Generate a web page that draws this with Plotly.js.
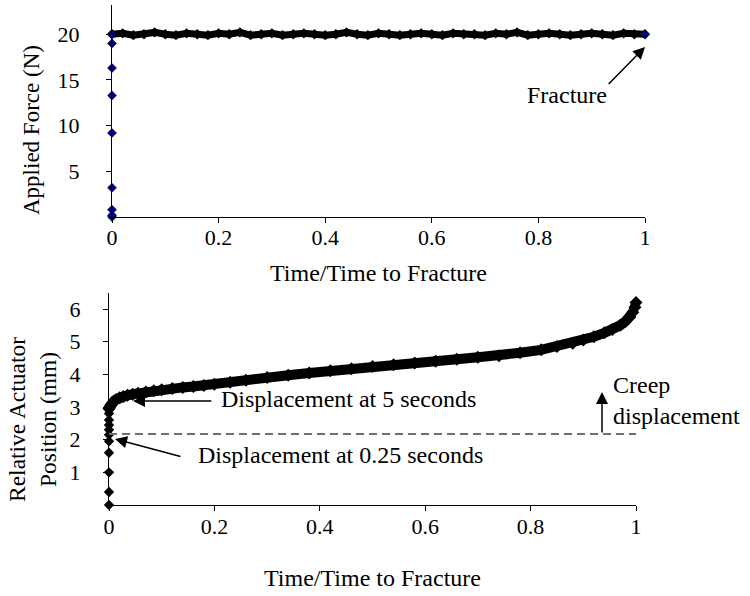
<!DOCTYPE html>
<html>
<head>
<meta charset="utf-8">
<script src="https://cdn.plot.ly/plotly-3.0.1.min.js"></script>
<style>html,body{margin:0;padding:0;background:#fff;}#chart{width:750px;height:596px;}</style>
</head>
<body>
<div id="chart"></div>
<script>
// ---- Data ----
const xTickVals = [0, 0.2, 0.4, 0.6, 0.8, 1];
const xTickText = ["0", "0.2", "0.4", "0.6", "0.8", "1"];
const forceTickVals = [5, 10, 15, 20];
const posTickVals = [1, 2, 3, 4, 5, 6];

// Top panel: applied force (N) vs normalised time
const forceRampX = [0, 0, 0, 0, 0, 0, 0, 0, 0];
const forceRampY = [0, 0.2, 0.8, 3.2, 9.2, 13.3, 16.3, 19.0, 20.0];
const forceHoldX = [0, 0.02, 0.04, 0.06, 0.08, 0.1, 0.12, 0.14, 0.16, 0.18, 0.2, 0.22, 0.24, 0.26, 0.28, 0.3, 0.32, 0.34, 0.36, 0.38, 0.4, 0.42, 0.44, 0.46, 0.48, 0.5, 0.52, 0.54, 0.56, 0.58, 0.6, 0.62, 0.64, 0.66, 0.68, 0.7, 0.72, 0.74, 0.76, 0.78, 0.8, 0.82, 0.84, 0.86, 0.88, 0.9, 0.92, 0.94, 0.96, 0.98, 1.0];
const forceHoldY = [20.0, 20.1, 19.9, 20.0, 20.2, 20.0, 19.9, 20.1, 20.0, 19.9, 20.1, 20.0, 20.2, 19.9, 20.0, 20.1, 19.9, 20.0, 20.1, 20.0, 19.9, 20.0, 20.2, 20.0, 19.9, 20.1, 20.0, 19.9, 20.0, 20.1, 20.0, 19.9, 20.1, 20.0, 20.0, 19.9, 20.1, 20.0, 20.2, 19.9, 20.0, 20.1, 20.0, 19.9, 20.0, 20.1, 20.0, 19.9, 20.1, 20.0, 20.0];
const fracturePoint = {x: 1.0, y: 18.6};

// Bottom panel: relative actuator position (mm)
const posRampX = [0, 0, 0, 0, 0, 0, 0, 0, 0, 0, 0];
const posRampY = [0, 0.4, 1.0, 1.6, 1.95, 2.15, 2.3, 2.45, 2.6, 2.8, 2.95];
const posCreepX = [0, 0.002, 0.004, 0.007, 0.01, 0.014, 0.02, 0.027, 0.035, 0.045, 0.055, 0.07, 0.085, 0.1, 0.12, 0.14, 0.16, 0.18, 0.2, 0.23, 0.26, 0.3, 0.34, 0.38, 0.42, 0.46, 0.5, 0.54, 0.58, 0.62, 0.66, 0.7, 0.74, 0.78, 0.82, 0.85, 0.88, 0.9, 0.92, 0.94, 0.955, 0.97, 0.98, 0.988, 0.994, 0.998, 1.0];
const posCreepY = [2.95, 3.02, 3.08, 3.14, 3.19, 3.23, 3.28, 3.32, 3.36, 3.39, 3.42, 3.46, 3.5, 3.53, 3.57, 3.6, 3.63, 3.66, 3.7, 3.76, 3.82, 3.9, 3.97, 4.04, 4.11, 4.17, 4.24, 4.29, 4.35, 4.4, 4.46, 4.52, 4.57, 4.66, 4.75, 4.85, 4.95, 5.05, 5.15, 5.27, 5.37, 5.5, 5.62, 5.75, 5.9, 6.05, 6.2];
const dispAt025s = 2.17;   // dashed reference level
const dispAt5s = 3.18;     // arrow level
const creepArrow = {x: 0.9355, y0: 2.17, y1: 3.46};

// ---- Traces ----
const FONT = "Liberation Serif, 'Times New Roman', Times, serif";
const traces = [
  {x: forceHoldX, y: forceHoldY, xaxis: 'x', yaxis: 'y', type: 'scatter', mode: 'lines+markers',
   line: {color: '#000', width: 7}, marker: {symbol: 'diamond', size: 8, color: '#000'},
   cliponaxis: false, showlegend: false, hoverinfo: 'x+y'},
  {x: forceRampX, y: forceRampY, xaxis: 'x', yaxis: 'y', type: 'scatter', mode: 'markers',
   marker: {symbol: 'diamond', size: 7, color: '#000080', line: {color: '#000', width: 0.5}},
   cliponaxis: false, showlegend: false, hoverinfo: 'x+y'},
  {x: [forceHoldX[forceHoldX.length - 1]], y: [forceHoldY[forceHoldY.length - 1]], xaxis: 'x', yaxis: 'y', type: 'scatter', mode: 'markers',
   marker: {symbol: 'diamond', size: 6, color: '#000080'}, cliponaxis: false, showlegend: false, hoverinfo: 'x+y'},
  {x: posCreepX, y: posCreepY, xaxis: 'x2', yaxis: 'y2', type: 'scatter', mode: 'lines+markers',
   line: {color: '#000', width: 10}, marker: {symbol: 'diamond', size: 10, color: '#000'},
   cliponaxis: false, showlegend: false, hoverinfo: 'x+y'},
  {x: posRampX, y: posRampY, xaxis: 'x2', yaxis: 'y2', type: 'scatter', mode: 'markers',
   marker: {symbol: 'diamond', size: 8, color: '#000'},
   cliponaxis: false, showlegend: false, hoverinfo: 'x+y'}
];

const axisBase = {
  showline: true, linecolor: '#000', linewidth: 1, mirror: false,
  ticks: 'outside', ticklen: 5, tickcolor: '#000', tickwidth: 1,
  showgrid: false, zeroline: false, fixedrange: true,
  tickfont: {family: FONT, size: 22, color: '#000'}
};

const arrowStyle = {showarrow: true, arrowhead: 2, arrowsize: 1.6, arrowwidth: 1.5, arrowcolor: '#000', text: ''};
const txt = (o) => Object.assign({showarrow: false, font: {family: FONT, size: 24, color: '#000'}}, o);

const layout = {
  width: 750, height: 596,
  margin: {l: 0, r: 0, t: 0, b: 0},
  paper_bgcolor: '#fff', plot_bgcolor: '#fff',
  font: {family: FONT, size: 23, color: '#000'},
  showlegend: false,
  xaxis: Object.assign({}, axisBase, {
    domain: [112 / 750, 645 / 750], range: [0, 1], anchor: 'y',
    tickvals: xTickVals, ticktext: xTickText, ticklabelstandoff: -4,
    title: {text: 'Time/Time to Fracture', font: {family: FONT, size: 24, color: '#000'}, standoff: 14}
  }),
  yaxis: Object.assign({}, axisBase, {
    domain: [(596 - 217) / 596, (596 - 5) / 596], range: [0, 23.2], anchor: 'x',
    tickvals: forceTickVals, ticklabelstandoff: 22
  }),
  xaxis2: Object.assign({}, axisBase, {
    domain: [109 / 750, 636 / 750], range: [0, 1], anchor: 'y2',
    tickvals: xTickVals, ticktext: xTickText, ticklabelstandoff: -3,
    title: {text: 'Time/Time to Fracture', font: {family: FONT, size: 24, color: '#000'}, standoff: 30}
  }),
  yaxis2: Object.assign({}, axisBase, {
    domain: [(596 - 505) / 596, (596 - 293) / 596], range: [0, 6.49], anchor: 'x2',
    tickvals: posTickVals, ticklabelstandoff: 18
  }),
  shapes: [
    {type: 'line', xref: 'x2', yref: 'y2', x0: 0, x1: 1, y0: dispAt025s, y1: dispAt025s,
     line: {color: '#707070', width: 2, dash: '8px,5px'}}
  ],
  annotations: [
    // y-axis titles
    txt({xref: 'paper', yref: 'paper', x: 32 / 750, y: (596 - 130) / 596, text: 'Applied Force (N)', textangle: -90, xanchor: 'center', yanchor: 'middle', font: {family: FONT, size: 23, color: '#000'}}),
    txt({xref: 'paper', yref: 'paper', x: 32 / 750, y: (596 - 420) / 596, text: 'Relative Actuator<br>Position (mm)', textangle: -90, xanchor: 'center', yanchor: 'middle', font: {family: FONT, size: 23.5, color: '#000'}}),
    // Fracture
    Object.assign({}, arrowStyle, {xref: 'x', yref: 'y', axref: 'x', ayref: 'y', x: fracturePoint.x, y: fracturePoint.y, ax: 0.929, ay: 14.4}),
    txt({xref: 'x', yref: 'y', x: 0.854, y: 13.35, text: 'Fracture', xanchor: 'center', yanchor: 'middle'}),
    // Displacement at 5 seconds
    Object.assign({}, arrowStyle, {xref: 'x2', yref: 'y2', axref: 'x2', ayref: 'y2', x: 0.0455, y: dispAt5s, ax: 0.197, ay: dispAt5s}),
    txt({xref: 'x2', yref: 'y2', x: 0.208, y: 3.25, text: 'Displacement at 5 seconds', xanchor: 'left', yanchor: 'middle'}),
    // Displacement at 0.25 seconds
    Object.assign({}, arrowStyle, {xref: 'x2', yref: 'y2', axref: 'x2', ayref: 'y2', x: 0.0114, y: 2.02, ax: 0.1385, ay: 1.47}),
    txt({xref: 'x2', yref: 'y2', x: 0.166, y: 1.53, text: 'Displacement at 0.25 seconds', xanchor: 'left', yanchor: 'middle'}),
    // Creep displacement
    Object.assign({}, arrowStyle, {xref: 'x2', yref: 'y2', axref: 'x2', ayref: 'y2', x: creepArrow.x, y: creepArrow.y1, ax: creepArrow.x, ay: creepArrow.y0}),
    txt({xref: 'x2', yref: 'y2', x: 0.952, y: 3.21, text: 'Creep<br>displacement', xanchor: 'left', yanchor: 'middle', align: 'left'})
  ]
};

Plotly.newPlot('chart', traces, layout, {staticPlot: true, displayModeBar: false});
</script>
</body>
</html>
